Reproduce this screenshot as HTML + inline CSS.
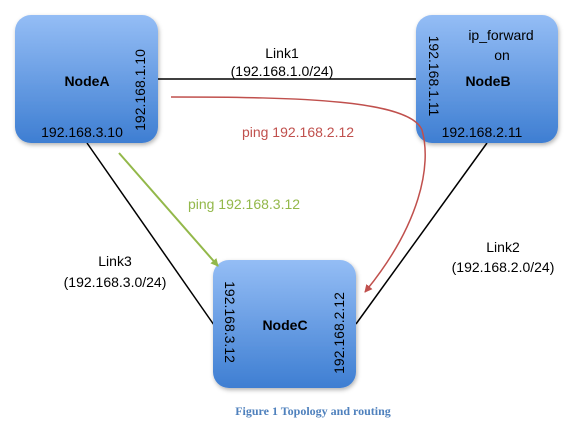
<!DOCTYPE html>
<html><head><meta charset="utf-8"><style>
html,body{margin:0;padding:0;background:#fff;}
</style></head><body>
<svg width="571" height="435" xmlns="http://www.w3.org/2000/svg" font-family="Liberation Sans, DejaVu Sans, sans-serif">
<defs>
<linearGradient id="g" x1="0" y1="0" x2="0" y2="1">
<stop offset="0" stop-color="#94bdf5"/><stop offset="1" stop-color="#3e7ed2"/>
</linearGradient>
<filter id="s" x="-10%" y="-10%" width="130%" height="130%"><feDropShadow dx="1" dy="2" stdDeviation="2" flood-color="#000" flood-opacity="0.3"/></filter>
<marker id="ag" markerWidth="8" markerHeight="8" refX="7" refY="4" orient="auto" markerUnits="userSpaceOnUse"><path d="M0,0 L8,4 L0,8 z" fill="#93b84a"/></marker>
<marker id="ar" markerWidth="8" markerHeight="8" refX="7" refY="4" orient="auto" markerUnits="userSpaceOnUse"><path d="M0,0 L8,4 L0,8 z" fill="#c0504d"/></marker>
</defs>
<line x1="158" y1="79" x2="416" y2="79" stroke="#000" stroke-width="1.5"/>
<line x1="87" y1="143" x2="214" y2="325" stroke="#000" stroke-width="1.5"/>
<line x1="487" y1="143" x2="356" y2="324" stroke="#000" stroke-width="1.5"/>
<rect x="15" y="15" width="143" height="128" rx="16" fill="url(#g)" filter="url(#s)"/>
<rect x="416" y="15" width="142" height="128" rx="16" fill="url(#g)" filter="url(#s)"/>
<rect x="213" y="260" width="143" height="128" rx="16" fill="url(#g)" filter="url(#s)"/>
<line x1="119" y1="153" x2="218" y2="266" stroke="#93b84a" stroke-width="2" marker-end="url(#ag)"/>
<path d="M171,97 C300,97 410,100 422,130 C432,165 420,225 365,292" fill="none" stroke="#c0504d" stroke-width="1.5" marker-end="url(#ar)"/>
<g font-size="14" fill="#000">
<text x="282" y="58" text-anchor="middle">Link1</text>
<text x="282" y="76" text-anchor="middle">(192.168.1.0/24)</text>
<text x="115" y="266" text-anchor="middle">Link3</text>
<text x="115" y="287" text-anchor="middle">(192.168.3.0/24)</text>
<text x="503" y="252" text-anchor="middle">Link2</text>
<text x="503" y="272" text-anchor="middle">(192.168.2.0/24)</text>
<text x="298" y="137" text-anchor="middle" fill="#c0504d">ping 192.168.2.12</text>
<text x="244" y="209" text-anchor="middle" fill="#93b84a">ping 192.168.3.12</text>
<text x="87" y="86" text-anchor="middle" font-weight="bold">NodeA</text>
<text x="82" y="137" text-anchor="middle">192.168.3.10</text>
<text transform="translate(145,90) rotate(-90)" text-anchor="middle">192.168.1.10</text>
<text x="501" y="40" text-anchor="middle">ip_forward</text>
<text x="502" y="60" text-anchor="middle">on</text>
<text x="488" y="86" text-anchor="middle" font-weight="bold">NodeB</text>
<text x="482" y="137" text-anchor="middle">192.168.2.11</text>
<text transform="translate(429,76) rotate(90)" text-anchor="middle">192.168.1.11</text>
<text x="285" y="330" text-anchor="middle" font-weight="bold">NodeC</text>
<text transform="translate(225,322) rotate(90)" text-anchor="middle">192.168.3.12</text>
<text transform="translate(344,333) rotate(-90)" text-anchor="middle">192.168.2.12</text>
</g>
<text x="313" y="415" text-anchor="middle" font-family="Liberation Serif, serif" font-weight="bold" font-size="12" fill="#4f81bd">Figure 1 Topology and routing</text>
</svg>
</body></html>
